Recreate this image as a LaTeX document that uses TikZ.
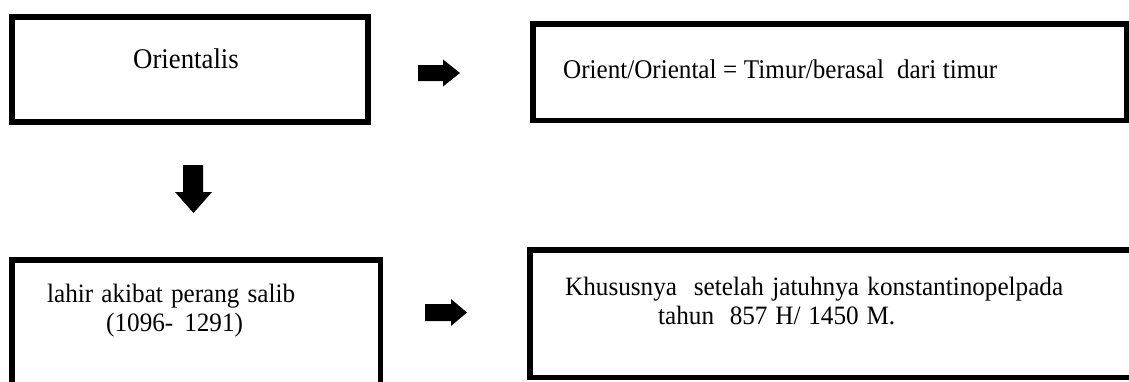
\documentclass[tikz,border=0pt]{standalone}
\usepackage{fontspec}
\setmainfont{Liberation Serif}
\newfontfamily\tnrA[FakeStretch=0.95]{Liberation Serif}
\newfontfamily\tnrB[FakeStretch=0.94]{Liberation Serif}
\newfontfamily\tnrC[FakeStretch=0.93]{Liberation Serif}
\begin{document}
\begin{tikzpicture}[x=1pt,y=-1pt,
  box/.style={draw=black, line width=5.5pt, rectangle, inner sep=0pt, outer sep=0pt},
  lbl/.style={anchor=base west, inner sep=0pt, font=\tnrA\fontsize{26.5pt}{30pt}\selectfont},
  blockarrow/.style={fill=black}]
\clip (0,0) rectangle (1129,381);
\fill[white] (0,0) rectangle (1129,381);
% boxes
\node[box, minimum width=356pt, minimum height=105pt] (b1) at (190,69.5) {};
\node[box, minimum width=593.5pt, minimum height=96.5pt] (b2) at (829.5,72) {};
\node[box, minimum width=368.5pt, minimum height=140pt] (b3) at (196,329.8) {};
\node[box, minimum width=615pt, minimum height=127.5pt] (b4) at (837.3,313.5) {};
% texts
\node[lbl, font=\tnrB\fontsize{28.5pt}{32pt}\selectfont] (t1) at (133,68) {Orientalis};
\node[lbl, font=\tnrC\fontsize{27pt}{30pt}\selectfont] (t2) at (563,78) {\makebox[434pt][s]{Orient/Oriental = Timur/berasal\ \ dari timur}};
\node[lbl] (t3a) at (47,302) {\makebox[248pt][s]{lahir akibat perang salib}};
\node[lbl] (t3b) at (106,331) {(1096-\hspace{11pt}1291)};
\node[lbl] (t4a) at (565,295) {\makebox[498pt][s]{Khususnya\ \ setelah jatuhnya konstantinopelpada}};
\node[lbl] (t4b) at (658,324) {\makebox[237pt][s]{tahun\ \ 857 H/ 1450 M.}};
% block arrows between the boxes
\coordinate (arrA) at (418,65);
\coordinate (arrB) at (425,304);
\coordinate (arrC) at (183,165);
\fill[blockarrow] (arrA) -- ++(25,0) -- ++(0,-5.5) -- ++(17,13.5) -- ++(-17,13.5) -- ++(0,-5.5) -- ++(-25,0) -- cycle;
\fill[blockarrow] (arrB) -- ++(26,0) -- ++(0,-5) -- ++(16,13.5) -- ++(-16,13.5) -- ++(0,-5) -- ++(-26,0) -- cycle;
\fill[blockarrow] (arrC) -- ++(20,0) -- ++(0,27) -- ++(9,0) -- ++(-18.5,21) -- ++(-18.5,-21) -- ++(8,0) -- cycle;
\end{tikzpicture}
\end{document}
